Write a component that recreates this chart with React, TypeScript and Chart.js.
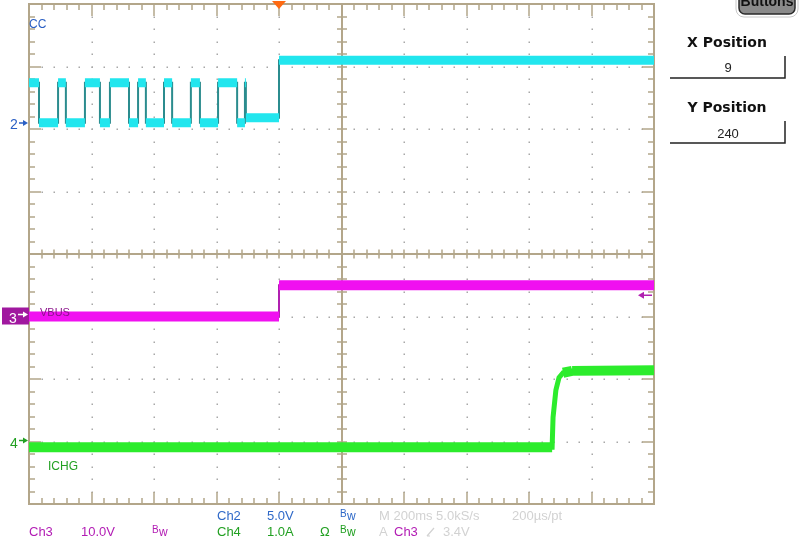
import React, { useEffect, useRef } from "react";
import { Chart, registerables } from "chart.js";

Chart.register(...registerables);

// ---- Data ----
// Horizontal: 200 ms/div, 10 divisions, time measured from left edge of screen (ms)
const timeStart = 0;
const timeEnd = 2000;
const triggerTime = 800;

// CH2 (CC line), 5.0 V/div: each level (V) starts at the given time (ms)
const ch2Times = [0, 32, 93, 118, 179, 227, 259, 320, 349, 374, 432, 458, 518, 547, 605, 666, 691, 694, 800];
const ch2Levels = [3.3, 0.1, 3.3, 0.1, 3.3, 0.1, 3.3, 0.1, 3.3, 0.1, 3.3, 0.1, 3.3, 0.1, 3.3, 0.1, 3.3, 0.5, 5.1];

// CH3 (VBUS), 10.0 V/div
const ch3Times = [0, 800];
const ch3Levels = [0.0, 5.0];

// CH4 (ICHG), 1.0 A/div: sampled points (ms, A)
const ch4Times = [0, 1674, 1677, 1686, 1696, 1709, 1738, 2000];
const ch4Values = [-0.09, -0.09, 0.39, 0.82, 1.02, 1.10, 1.13, 1.14];

// Channel settings: volts (amps) per division and ground marker position (div from bottom)
const ch2PerDiv = 5;
const ch2Ground = 6.08;
const ch3PerDiv = 10;
const ch3Ground = 3.0;
const ch4PerDiv = 1;
const ch4Ground = 1.0;
const triggerLevel = 3.4; // V on Ch3

const divisionsX = 10;
const divisionsY = 8;

// Readout texts
const readoutRow1 = [
  { text: "Ch2", color: "#2f69c8", x: 217 },
  { text: "5.0V", color: "#2f69c8", x: 267 },
  { text: "Bw", color: "#2f69c8", x: 340, bw: true },
  { text: "M 200ms 5.0kS/s", color: "#d2d2d2", x: 379 },
  { text: "200\u00b5s/pt", color: "#d2d2d2", x: 512 },
];
const readoutRow2 = [
  { text: "Ch3", color: "#b21cb4", x: 29 },
  { text: "10.0V", color: "#b21cb4", x: 81 },
  { text: "Bw", color: "#b21cb4", x: 152, bw: true },
  { text: "Ch4", color: "#22a022", x: 217 },
  { text: "1.0A", color: "#22a022", x: 267 },
  { text: "\u03a9", color: "#22a022", x: 320 },
  { text: "Bw", color: "#22a022", x: 340, bw: true },
  { text: "A", color: "#d2d2d2", x: 379 },
  { text: "Ch3", color: "#b21cb4", x: 394 },
  { text: "3.4V", color: "#d2d2d2", x: 443 },
];

const CYAN = "#22e6ee";
const CYAN_EDGE = "#2b8c8e";
const MAGENTA = "#f010f0";
const MAGENTA_EDGE = "#b020b0";
const GREEN = "#2cec2c";
const GRAT = "#b3a68a";
const FONT = "'Liberation Sans', Arial, sans-serif";

function stepBand(times: number[], levels: number[], end: number) {
  const pts: any[] = [];
  for (let i = 0; i < times.length; i++) {
    const t1 = i + 1 < times.length ? times[i + 1] : end;
    pts.push({ x: times[i], y: levels[i] }, { x: t1, y: levels[i] }, { x: t1, y: null });
  }
  return pts;
}
function stepEdge(times: number[], levels: number[], end: number) {
  const pts: any[] = times.map((t, i) => ({ x: t, y: levels[i] }));
  pts.push({ x: end, y: levels[levels.length - 1] });
  return pts;
}
function flatBand(times: number[], values: number[]) {
  const pts: any[] = [];
  for (let i = 0; i + 1 < times.length; i++) {
    if (Math.abs(values[i + 1] - values[i]) < 0.05) {
      pts.push({ x: times[i], y: values[i] }, { x: times[i + 1], y: values[i + 1] }, { x: times[i + 1], y: null });
    }
  }
  return pts;
}

const scopePlugin = {
  id: "scope",
  beforeDatasetsDraw(chart: any) {
    const { ctx, chartArea: a } = chart;
    const xs = chart.scales.x;
    const ds = chart.scales.div;
    const L = a.left, R = a.right, T = a.top, B = a.bottom;
    const stepX = (R - L) / divisionsX / 5;
    const stepY = (B - T) / divisionsY / 5;
    ctx.save();
    // dotted grid
    ctx.fillStyle = "#a8a8a8";
    for (let i = 1; i < divisionsX; i++) {
      if (i === divisionsX / 2) continue;
      const x = Math.round(xs.getPixelForValue(timeStart + (i * (timeEnd - timeStart)) / divisionsX));
      for (let k = 1; k < divisionsY * 5; k++) {
        const y = Math.round(T + k * stepY);
        ctx.fillRect(x - 0.5, y - 0.5, 1.5, 1.5);
      }
    }
    for (let j = 1; j < divisionsY; j++) {
      if (j === divisionsY / 2) continue;
      const y = Math.round(ds.getPixelForValue(j));
      for (let k = 1; k < divisionsX * 5; k++) {
        const x = Math.round(L + k * stepX);
        ctx.fillRect(x - 0.5, y - 0.5, 1.5, 1.5);
      }
    }
    ctx.strokeStyle = GRAT;
    ctx.lineWidth = 2;
    // border
    ctx.strokeRect(L, T, R - L, B - T);
    // border ticks
    ctx.lineWidth = 1.5;
    ctx.beginPath();
    for (let k = 1; k < divisionsX * 5; k++) {
      const x = Math.round(L + k * stepX);
      const len = k % 5 === 0 ? 12 : 6;
      ctx.moveTo(x, T); ctx.lineTo(x, T + len);
      ctx.moveTo(x, B); ctx.lineTo(x, B - len);
    }
    for (let k = 1; k < divisionsY * 5; k++) {
      const y = Math.round(T + k * stepY);
      const len = k % 5 === 0 ? 12 : 6;
      ctx.moveTo(L, y); ctx.lineTo(L + len, y);
      ctx.moveTo(R, y); ctx.lineTo(R - len, y);
    }
    ctx.stroke();
    // center cross
    const cx = Math.round((L + R) / 2);
    const cy = Math.round((T + B) / 2);
    ctx.lineWidth = 2;
    ctx.beginPath();
    ctx.moveTo(cx, T); ctx.lineTo(cx, B);
    ctx.moveTo(L, cy); ctx.lineTo(R, cy);
    ctx.stroke();
    ctx.lineWidth = 1.5;
    ctx.beginPath();
    for (let k = 1; k < divisionsY * 5; k++) {
      const y = Math.round(T + k * stepY);
      ctx.moveTo(cx - 5, y); ctx.lineTo(cx + 5, y);
    }
    for (let k = 1; k < divisionsX * 5; k++) {
      const x = Math.round(L + k * stepX);
      ctx.moveTo(x, cy - 4.5); ctx.lineTo(x, cy + 4.5);
    }
    ctx.stroke();
    ctx.restore();
  },
  afterDatasetsDraw(chart: any) {
    const { ctx, chartArea: a } = chart;
    const xs = chart.scales.x;
    ctx.save();
    const text = (s: string, x: number, y: number, color: string, font: string, align: CanvasTextAlign = "left") => {
      ctx.font = font;
      ctx.fillStyle = color;
      ctx.textAlign = align;
      ctx.textBaseline = "alphabetic";
      ctx.fillText(s, x, y);
    };
    const arrowRight = (x0: number, x1: number, y: number, color: string) => {
      ctx.strokeStyle = color;
      ctx.fillStyle = color;
      ctx.lineWidth = 1.5;
      ctx.beginPath(); ctx.moveTo(x0, y); ctx.lineTo(x1 - 3, y); ctx.stroke();
      ctx.beginPath(); ctx.moveTo(x1, y); ctx.lineTo(x1 - 5, y - 3); ctx.lineTo(x1 - 5, y + 3); ctx.closePath(); ctx.fill();
    };

    // trace labels
    text("CC", 29, 28, "#2a5fc4", `12px ${FONT}`);
    text("VBUS", 40, 316, "#8a128a", `11px ${FONT}`);
    text("ICHG", 48, 470, "#22a022", `12px ${FONT}`);

    // ground markers
    const y2 = chart.scales.y2.getPixelForValue(0);
    text("2", 10, y2 + 5, "#2a5fc4", `14px ${FONT}`);
    arrowRight(19, 28, y2 - 1, "#2a5fc4");

    const y3 = chart.scales.y3.getPixelForValue(0);
    ctx.fillStyle = "#a0189f";
    ctx.fillRect(2, y3 - 9, 27, 17);
    text("3", 9, y3 + 6, "#ffffff", `14px ${FONT}`);
    arrowRight(18, 28, y3 - 2, "#ffffff");

    const y4 = chart.scales.y4.getPixelForValue(0);
    text("4", 10, y4 + 6, "#22a022", `14px ${FONT}`);
    arrowRight(19, 28, y4 - 1, "#22a022");

    // trigger level arrow (right)
    const yt = chart.scales.y3.getPixelForValue(triggerLevel);
    ctx.strokeStyle = MAGENTA_EDGE;
    ctx.fillStyle = MAGENTA_EDGE;
    ctx.lineWidth = 1.5;
    ctx.beginPath(); ctx.moveTo(a.right - 2, yt); ctx.lineTo(a.right - 12, yt); ctx.stroke();
    ctx.beginPath(); ctx.moveTo(a.right - 16, yt); ctx.lineTo(a.right - 10, yt - 3.5); ctx.lineTo(a.right - 10, yt + 3.5); ctx.closePath(); ctx.fill();

    // trigger position marker (top)
    const xt = xs.getPixelForValue(triggerTime);
    ctx.fillStyle = "#ff6a12";
    ctx.beginPath(); ctx.moveTo(xt - 7, 1); ctx.lineTo(xt + 7, 1); ctx.lineTo(xt, 9); ctx.closePath(); ctx.fill();

    // readouts
    const drawRow = (row: any[], y: number) => {
      for (const r of row) {
        if (r.bw) {
          text("B", r.x, y - 3, r.color, `10px ${FONT}`);
          text("w", r.x + 7, y, r.color, `12px ${FONT}`);
        } else {
          text(r.text, r.x, y, r.color, `13px ${FONT}`);
        }
      }
    };
    drawRow(readoutRow1, 520);
    drawRow(readoutRow2, 536);
    // slope symbol
    ctx.strokeStyle = "#d2d2d2";
    ctx.lineWidth = 1.2;
    ctx.beginPath(); ctx.moveTo(427, 536); ctx.lineTo(434, 528); ctx.moveTo(427, 536); ctx.lineTo(430, 536); ctx.stroke();

    // right panel
    ctx.fillStyle = "#8a8a8a";
    ctx.strokeStyle = "#2a2a2a";
    ctx.lineWidth = 1.5;
    ctx.beginPath();
    (ctx as any).roundRect(739, -14, 56, 28, 6);
    ctx.fill(); ctx.stroke();
    ctx.strokeStyle = "#c8c8c8";
    ctx.lineWidth = 1;
    ctx.beginPath();
    (ctx as any).roundRect(736, -16, 62, 33, 8);
    ctx.stroke();
    text("Buttons", 767, 6, "#111111", `bold 14px ${FONT}`, "center");

    text("X Position", 727, 47, "#111111", `bold 14px 'DejaVu Sans', ${FONT}`, "center");
    text("9", 728, 72, "#222222", `13px ${FONT}`, "center");
    text("Y Position", 727, 112, "#111111", `bold 14px 'DejaVu Sans', ${FONT}`, "center");
    text("240", 728, 138, "#222222", `13px ${FONT}`, "center");
    ctx.strokeStyle = "#222222";
    ctx.lineWidth = 1.5;
    ctx.beginPath();
    ctx.moveTo(670, 78); ctx.lineTo(785, 78); ctx.lineTo(785, 56);
    ctx.moveTo(670, 143); ctx.lineTo(785, 143); ctx.lineTo(785, 121);
    ctx.stroke();
    ctx.restore();
  },
};

export default function App() {
  const ref = useRef<HTMLCanvasElement>(null);
  useEffect(() => {
    if (!ref.current) return;
    const chart = new Chart(ref.current, {
      type: "line",
      data: {
        datasets: [
          { label: "CH2 band", data: stepBand(ch2Times, ch2Levels, timeEnd), yAxisID: "y2", borderColor: CYAN, borderWidth: 9, order: 0, spanGaps: false, borderCapStyle: "butt" },
          { label: "CH3 band", data: stepBand(ch3Times, ch3Levels, timeEnd), yAxisID: "y3", borderColor: MAGENTA, borderWidth: 10, order: 0, spanGaps: false },
          { label: "CH4 band", data: flatBand(ch4Times, ch4Values), yAxisID: "y4", borderColor: GREEN, borderWidth: 10, order: 0, spanGaps: false },
          { label: "CH2", data: stepEdge(ch2Times, ch2Levels, timeEnd), yAxisID: "y2", borderColor: CYAN_EDGE, borderWidth: 2, stepped: true, order: 1 },
          { label: "CH3", data: stepEdge(ch3Times, ch3Levels, timeEnd), yAxisID: "y3", borderColor: MAGENTA_EDGE, borderWidth: 2, stepped: true, order: 1 },
          { label: "CH4", data: ch4Times.map((t, i) => ({ x: t, y: ch4Values[i] })), yAxisID: "y4", borderColor: GREEN, borderWidth: 5, order: 1 },
        ] as any,
      },
      options: {
        animation: false,
        responsive: false,
        devicePixelRatio: 1,
        parsing: true,
        elements: { point: { radius: 0, hoverRadius: 0 }, line: { tension: 0, fill: false } },
        layout: { padding: { left: 29, top: 4, right: 146, bottom: 47 } },
        plugins: { legend: { display: false }, tooltip: { enabled: false } },
        events: [],
        scales: {
          x: { type: "linear", min: timeStart, max: timeEnd, display: false },
          div: { axis: "y", type: "linear", min: 0, max: divisionsY, display: false },
          y2: { axis: "y", type: "linear", min: -ch2Ground * ch2PerDiv, max: (divisionsY - ch2Ground) * ch2PerDiv, display: false },
          y3: { axis: "y", type: "linear", min: -ch3Ground * ch3PerDiv, max: (divisionsY - ch3Ground) * ch3PerDiv, display: false },
          y4: { axis: "y", type: "linear", min: -ch4Ground * ch4PerDiv, max: (divisionsY - ch4Ground) * ch4PerDiv, display: false },
        },
      } as any,
      plugins: [scopePlugin],
    });
    return () => chart.destroy();
  }, []);
  return (
    <div style={{ position: "absolute", left: 0, top: 0, width: 800, height: 551, background: "#ffffff" }}>
      <canvas ref={ref} width={800} height={551} style={{ display: "block" }} />
    </div>
  );
}
